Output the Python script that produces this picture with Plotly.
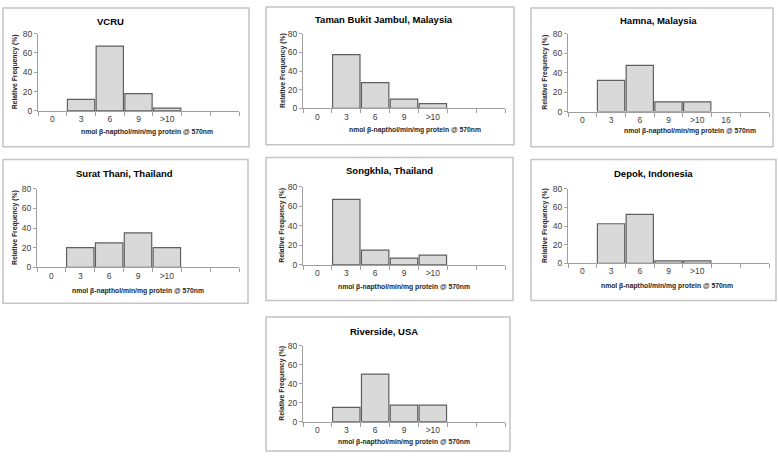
import plotly.graph_objects as go

# ---------------- data ----------------
bins = ["3", "6", "9", ">10"]
cats_default = ["0", "3", "6", "9", ">10", " ", "  "]
cats_hamna = ["0", "3", "6", "9", ">10", "16", " "]

titles = ["VCRU", "Taman Bukit Jambul, Malaysia", "Hamna, Malaysia",
          "Surat Thani, Thailand", "Songkhla, Thailand", "Depok, Indonesia",
          "Riverside, USA"]
vcru = [12, 67, 18, 3]
taman = [57.5, 27.5, 10, 5]
hamna = [32, 47.5, 10, 10]
surat = [20, 25, 35, 20]
songkhla = [67, 15, 7, 10]
depok = [42.5, 52.5, 2.5, 2.5]
riverside = [15, 50, 17.5, 17.5]
series = [vcru, taman, hamna, surat, songkhla, depok, riverside]
categories = [cats_default, cats_default, cats_hamna, cats_default,
              cats_default, cats_default, cats_default]
y_ticks = [0, 20, 40, 60, 80]
x_title = "nmol β-napthol/min/mg protein @ 570nm"
y_title = "Relative Frequency (%)"

# ---------------- layout (pixels) ----------------
W, H = 778, 457
# box(x0,y0,x1,y1), plot(x0,x1,ytop,ybot), title(x,y), ytitle x, xtitle(x,y)
geo = [
    dict(box=(3, 3, 249, 145), plot=(38, 239, 29.3, 108.3), title=(110, 17), yt=15, xt=(147, 130)),
    dict(box=(266, 2, 514, 143), plot=(303, 505, 29.3, 105.7), title=(384, 15), yt=283, xt=(415, 128)),
    dict(box=(531, 3, 773, 145), plot=(568, 769, 29.3, 109), title=(658, 16), yt=545, xt=(690, 129)),
    dict(box=(3, 158, 248, 305), plot=(37, 239, 187.7, 268.3), title=(124, 172), yt=15, xt=(138, 292)),
    dict(box=(266, 156, 513, 302), plot=(303, 505, 185.7, 265.7), title=(390, 169), yt=282, xt=(404, 288)),
    dict(box=(531, 158, 776, 302), plot=(568, 769, 188, 264), title=(653, 172), yt=545, xt=(667, 287)),
    dict(box=(266, 319, 510, 456), plot=(303, 505, 348.3, 426), title=(384, 334), yt=282, xt=(404, 447)),
]

def fx(x):
    return x / W

def fy(y):
    return 1 - y / H

FONT = "Liberation Sans, Arial, sans-serif"
fig = go.Figure()
shapes, annotations = [], []
layout_axes = {}

for i, (vals, cats, g) in enumerate(zip(series, categories, geo)):
    n = i + 1
    xa = "x" if n == 1 else f"x{n}"
    ya = "y" if n == 1 else f"y{n}"
    fig.add_trace(go.Bar(
        x=bins, y=vals, xaxis=xa, yaxis=ya, showlegend=False,
        marker=dict(color="#d9d9d9", line=dict(color="#5f5f5f", width=1.2)),
        hoverinfo="x+y",
    ))
    px0, px1, pyt, pyb = g["plot"]
    layout_axes[f"xaxis{n if n > 1 else ''}"] = dict(
        domain=[fx(px0), fx(px1)], anchor=ya, type="category",
        categoryorder="array", categoryarray=cats, range=[-0.5, len(cats) - 0.5],
        tickmode="array", tickvals=cats, ticktext=cats,
        tickson="boundaries", ticks="outside", ticklen=4, tickcolor="#a0a0a0",
        showline=True, linecolor="#a0a0a0", linewidth=1, showgrid=False,
        tickfont=dict(family=FONT, size=8.5, color="#404040"), fixedrange=True,
    )
    layout_axes[f"yaxis{n if n > 1 else ''}"] = dict(
        domain=[fy(pyb), fy(pyt)], anchor=xa, range=[0, 80],
        tickmode="array", tickvals=y_ticks, ticks="outside", ticklen=3,
        tickcolor="#a0a0a0", showline=True, linecolor="#a0a0a0", linewidth=1,
        showgrid=False, zeroline=False,
        tickfont=dict(family=FONT, size=8.5, color="#404040"), fixedrange=True,
    )
    bx0, by0, bx1, by1 = g["box"]
    shapes.append(dict(type="rect", xref="paper", yref="paper",
                       x0=fx(bx0), x1=fx(bx1), y0=fy(by1), y1=fy(by0),
                       line=dict(color="#c4c4c4", width=1.5), fillcolor="rgba(0,0,0,0)",
                       layer="below"))
    tx, ty = g["title"]
    annotations.append(dict(text=f"<b>{titles[i]}</b>", xref="paper", yref="paper",
                            x=fx(tx), y=fy(ty), xanchor="center", yanchor="middle",
                            showarrow=False, font=dict(family=FONT, size=9.5, color="#000000")))
    annotations.append(dict(text=f"<b>{y_title}</b>", xref="paper", yref="paper",
                            x=fx(g["yt"]), y=fy((pyt + pyb) / 2), xanchor="center", yanchor="middle",
                            textangle=-90, showarrow=False,
                            font=dict(family=FONT, size=6.8, color="#262626")))
    xx, xy = g["xt"]
    annotations.append(dict(text=f"<b>{x_title}</b>", xref="paper", yref="paper",
                            x=fx(xx), y=fy(xy), xanchor="center", yanchor="middle",
                            showarrow=False, font=dict(family=FONT, size=6.8, color="#262626")))

fig.update_layout(
    width=W, height=H, margin=dict(l=0, r=0, t=0, b=0),
    paper_bgcolor="white", plot_bgcolor="white",
    bargap=0.05, shapes=shapes, annotations=annotations,
    **layout_axes,
)

fig.write_html("out.html", config={"displayModeBar": False})
